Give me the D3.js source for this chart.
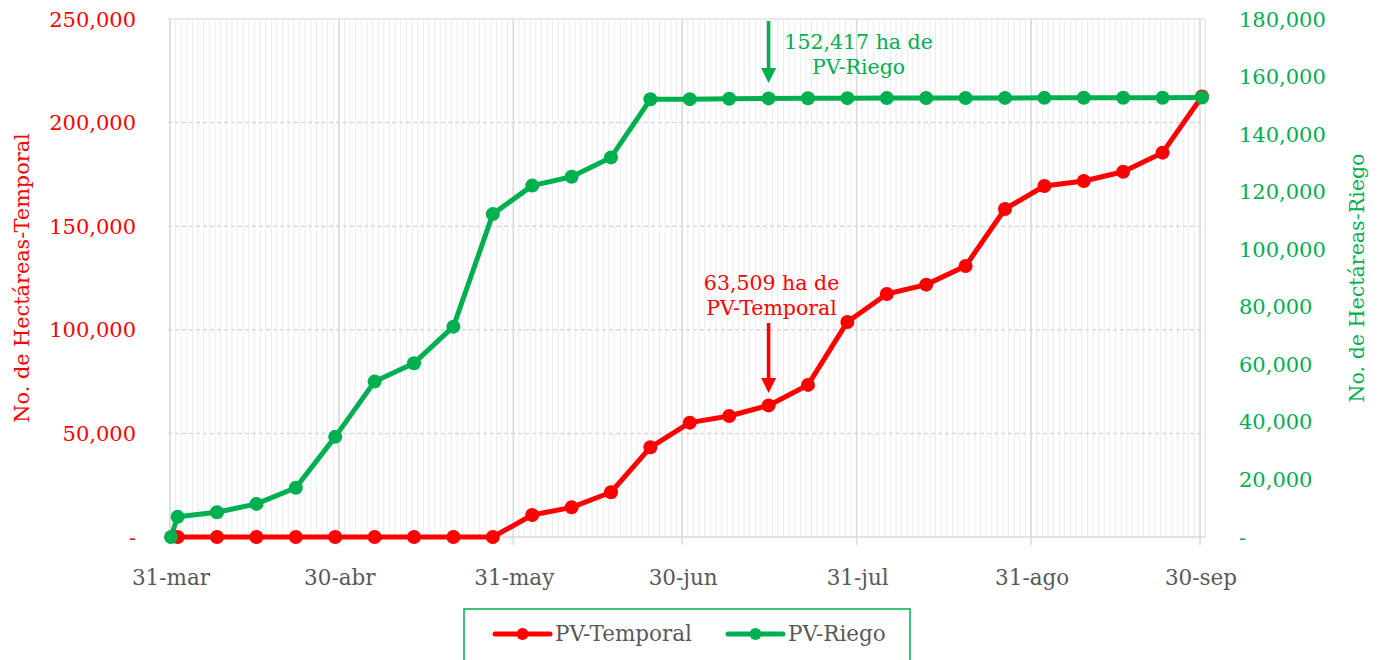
<!DOCTYPE html>
<html><head><meta charset="utf-8">
<script src="https://cdn.jsdelivr.net/npm/d3@7"></script>
<style>body{margin:0;background:#fff}svg{display:block}text{font-family:"DejaVu Serif",serif}</style>
</head><body><svg id="c" width="1378" height="660"></svg>
<script>
const temporalDates = ["2023-04-01","2023-04-08","2023-04-15","2023-04-22","2023-04-29","2023-05-06","2023-05-13","2023-05-20","2023-05-27","2023-06-03","2023-06-10","2023-06-17","2023-06-24","2023-07-01","2023-07-08","2023-07-15","2023-07-22","2023-07-29","2023-08-05","2023-08-12","2023-08-19","2023-08-26","2023-09-02","2023-09-09","2023-09-16","2023-09-23","2023-09-30"];
const temporalValues = [0,0,0,0,0,0,0,0,0,10600,14300,21600,43300,55200,58400,63509,73400,103800,117300,121800,130800,158300,169400,171800,176300,185500,212600];
const riegoDates = ["2023-03-31","2023-04-01","2023-04-08","2023-04-15","2023-04-22","2023-04-29","2023-05-06","2023-05-13","2023-05-20","2023-05-27","2023-06-03","2023-06-10","2023-06-17","2023-06-24","2023-07-01","2023-07-08","2023-07-15","2023-07-22","2023-07-29","2023-08-05","2023-08-12","2023-08-19","2023-08-26","2023-09-02","2023-09-09","2023-09-16","2023-09-23","2023-09-30"];
const riegoValues = [0,7000,8600,11500,17100,34800,54000,60400,73100,112200,122100,125200,131900,152100,152150,152300,152417,152450,152500,152520,152540,152560,152580,152600,152620,152640,152660,152700];
const monthTickDates = ["2023-03-31","2023-04-30","2023-05-31","2023-06-30","2023-07-31","2023-08-31","2023-09-30"];
const monthTickLabels = ["31-mar","30-abr","31-may","30-jun","31-jul","31-ago","30-sep"];
const leftTicks = [0,50000,100000,150000,200000,250000];
const rightTicks = [0,20000,40000,60000,80000,100000,120000,140000,160000,180000];
const seriesNames = ["PV-Temporal","PV-Riego"];
const annotRiego = ["152,417 ha de","PV-Riego"];
const annotTemporal = ["63,509 ha de","PV-Temporal"];

const RED="#ff0000", GREEN="#00b050", GRAY="#595959";
const P = d3.utcParse("%Y-%m-%d");
const svg = d3.select("#c");
const x = d3.scaleUtc().domain([P("2023-03-31"), P("2023-10-01")]).range([170, 1205.6]);
const PT = 2; // points sit slightly right of the day grid line
const yL = d3.scaleLinear().domain([0,250000]).range([537,19]);
const yR = d3.scaleLinear().domain([0,180000]).range([537,19]);
const fmt = v => v===0 ? "-" : d3.format(",")(v);

// daily minor grid
const days = d3.utcDay.range(P("2023-03-31"), P("2023-10-02"));
svg.append("g").selectAll("line").data(days).join("line")
  .attr("x1",d=>x(d)).attr("x2",d=>x(d)).attr("y1",19).attr("y2",537)
  .attr("stroke","#ececec").attr("stroke-width",1);
// horizontal grid
svg.append("g").selectAll("line").data(leftTicks.slice(1,-1)).join("line")
  .attr("x1",168).attr("x2",1205).attr("y1",d=>yL(d)).attr("y2",d=>yL(d))
  .attr("stroke","#d9d9d9").attr("stroke-width",1.5).attr("stroke-dasharray","4,3");
svg.append("line").attr("x1",168).attr("x2",1205).attr("y1",19).attr("y2",19).attr("stroke","#e3e3e3").attr("stroke-width",1.5);
// major month lines
svg.append("g").selectAll("line").data(monthTickDates).join("line")
  .attr("x1",d=>x(P(d))).attr("x2",d=>x(P(d))).attr("y1",19).attr("y2",545)
  .attr("stroke","#d9d9d9").attr("stroke-width",1.5);
svg.append("line").attr("x1",1205).attr("x2",1205).attr("y1",19).attr("y2",537).attr("stroke","#e6e6e6").attr("stroke-width",1);
svg.append("line").attr("x1",168).attr("x2",1205).attr("y1",537).attr("y2",537).attr("stroke","#d9d9d9").attr("stroke-width",1.5);
// x labels
svg.append("g").selectAll("text").data(monthTickDates).join("text")
  .attr("x",d=>x(P(d))+1).attr("y",585).attr("text-anchor","middle")
  .attr("fill",GRAY).attr("font-size",21.5).text((d,i)=>monthTickLabels[i]);
// left ticks
svg.append("g").selectAll("text").data(leftTicks).join("text")
  .attr("x",136).attr("y",d=>yL(d)+7.5).attr("text-anchor","end")
  .attr("fill",RED).attr("font-size",21).text(fmt);
// right ticks
svg.append("g").selectAll("text").data(rightTicks).join("text")
  .attr("x",1239).attr("y",d=>yR(d)+7.5).attr("text-anchor","start")
  .attr("fill",GREEN).attr("font-size",21).text(fmt);
// axis titles
svg.append("text").attr("transform","translate(29,278) rotate(-90)").attr("text-anchor","middle")
  .attr("fill",RED).attr("font-size",20.8).text("No. de Hectáreas-Temporal");
svg.append("text").attr("transform","translate(1364,278) rotate(-90)").attr("text-anchor","middle")
  .attr("fill",GREEN).attr("font-size",20.6).text("No. de Hectáreas-Riego");

// series
const tData = temporalDates.map((d,i)=>({d:P(d),v:temporalValues[i]}));
const rData = riegoDates.map((d,i)=>({d:P(d),v:riegoValues[i]}));
function drawSeries(data, y, color){
  const g = svg.append("g");
  const px = d => x(d.d) + (d.d > P("2023-03-31") ? PT : 1);
  g.append("path").datum(data).attr("fill","none").attr("stroke",color).attr("stroke-width",5)
    .attr("stroke-linejoin","round").attr("d",d3.line().x(px).y(d=>y(d.v)));
  g.selectAll("circle").data(data).join("circle").attr("cx",px).attr("cy",d=>y(d.v))
    .attr("r",7).attr("fill",color);
}
drawSeries(tData, yL, RED);
drawSeries(rData, yR, GREEN);

// annotations
function arrow(xp, y0, y1, color){
  svg.append("line").attr("x1",xp).attr("x2",xp).attr("y1",y0).attr("y2",y1-12).attr("stroke",color).attr("stroke-width",3.5);
  svg.append("path").attr("d",`M${xp-7.5},${y1-15}L${xp+7.5},${y1-15}L${xp},${y1}Z`).attr("fill",color);
}
const jul15 = x(P("2023-07-15")) + PT;
arrow(jul15, 21, 83, GREEN);
arrow(jul15, 323, 393, RED);
svg.append("g").selectAll("text").data(annotRiego).join("text")
  .attr("x",jul15+90).attr("y",(d,i)=>49+i*25).attr("text-anchor","middle")
  .attr("fill",GREEN).attr("font-size",20.5).text(d=>d);
svg.append("g").selectAll("text").data(annotTemporal).join("text")
  .attr("x",jul15+3).attr("y",(d,i)=>290+i*25).attr("text-anchor","middle")
  .attr("fill",RED).attr("font-size",20.5).text(d=>d);

// legend
svg.append("rect").attr("x",464).attr("y",609).attr("width",446).attr("height",60)
  .attr("fill","#fff").attr("stroke",GREEN).attr("stroke-width",1.5);
const legX = [495, 728];
const legColors = [RED, GREEN];
seriesNames.forEach((n,i)=>{
  svg.append("line").attr("x1",legX[i]).attr("x2",legX[i]+55).attr("y1",634).attr("y2",634)
    .attr("stroke",legColors[i]).attr("stroke-width",5).attr("stroke-linecap","round");
  svg.append("circle").attr("cx",legX[i]+27.5).attr("cy",634).attr("r",6).attr("fill",legColors[i]);
  svg.append("text").attr("x",legX[i]+60).attr("y",641).attr("fill",GRAY).attr("font-size",21.5).text(n);
});
</script></body></html>
